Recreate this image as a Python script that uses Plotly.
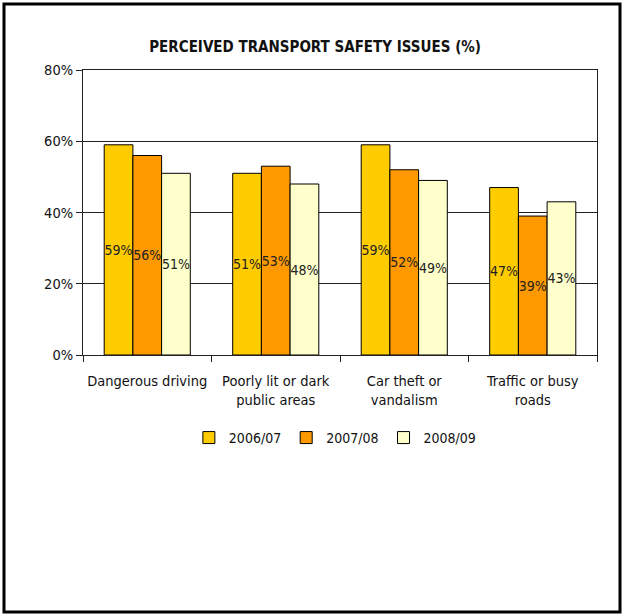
import plotly.graph_objects as go

categories = ["Dangerous driving", "Poorly lit or dark<br>public areas", "Car theft or<br>vandalism", "Traffic or busy<br>roads"]
series_names = ["2006/07", "2007/08", "2008/09"]
values_2006 = [59, 51, 59, 47]
values_2007 = [56, 53, 52, 39]
values_2008 = [51, 48, 49, 43]
colors = ["#FFCC00", "#FF9900", "#FFFFCC"]
y_ticks = [0, 20, 40, 60, 80]
y_tick_labels = ["0%", "20%", "40%", "60%", "80%"]

FONT = "DejaVu Sans Condensed, Liberation Sans Narrow, Arial Narrow, sans-serif"

fig = go.Figure()
for name, vals, col in zip(series_names, [values_2006, values_2007, values_2008], colors):
    fig.add_trace(go.Bar(
        x=categories, y=vals, name=name,
        marker=dict(color=col, line=dict(color="black", width=1)),
        text=[f"{v}%" for v in vals],
        textposition="inside", insidetextanchor="middle", textangle=0,
        constraintext="none",
        textfont=dict(family=FONT, size=14, color="#222222"),
        cliponaxis=False,
    ))

fig.update_layout(
    width=624, height=615,
    margin=dict(l=83, r=27, t=70, b=260),
    paper_bgcolor="white", plot_bgcolor="white",
    barmode="group", bargap=0.33, bargroupgap=0,
    uniformtext=dict(minsize=14, mode="show"),
    font=dict(family=FONT, size=14, color="#111111"),
    title=dict(text="<b>PERCEIVED TRANSPORT SAFETY ISSUES (%)</b>", x=0.505, xanchor="center",
               y=1 - 47 / 615, yanchor="middle", font=dict(family=FONT, size=15, color="#111111")),
    showlegend=True,
    legend=dict(orientation="h", x=0.49, xanchor="center", y=-0.235, yanchor="top",
                font=dict(family=FONT, size=14, color="#111111"),
                itemwidth=30, tracegroupgap=0, bgcolor="rgba(0,0,0,0)"),
    xaxis=dict(type="category", showline=True, linecolor="#222222", linewidth=1, mirror=True,
               ticks="outside", ticklen=6, tickcolor="#222222", tickson="boundaries",
               ticklabelstandoff=13,
               tickangle=0, showgrid=False, tickfont=dict(family=FONT, size=14.5, color="#111111")),
    yaxis=dict(range=[0, 80], tickvals=y_ticks, ticktext=y_tick_labels,
               showline=True, linecolor="#222222", linewidth=1, mirror=True,
               ticks="outside", ticklen=6, tickcolor="#222222",
               showgrid=True, gridcolor="#222222", gridwidth=1, zeroline=False,
               tickfont=dict(family=FONT, size=14.5, color="#111111")),
    shapes=[dict(type="rect", xref="paper", yref="paper",
                 x0=(4 - 83) / 514, x1=(620 - 83) / 514,
                 y0=(355 - 612) / 285, y1=(355 - 4) / 285,
                 line=dict(color="black", width=3), fillcolor="rgba(0,0,0,0)", layer="above")],
)

fig.write_html("out.html")
